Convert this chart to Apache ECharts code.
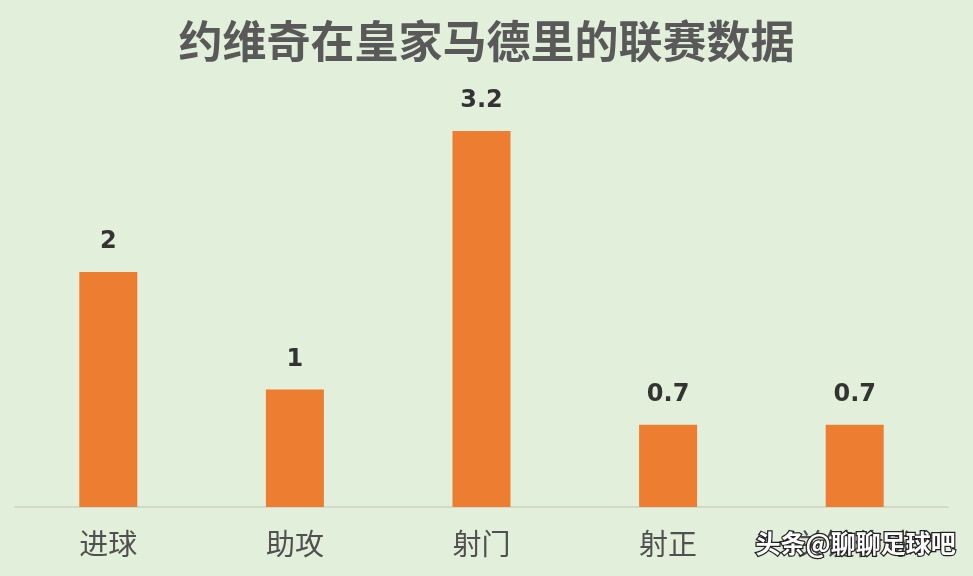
<!DOCTYPE html>
<html>
<head>
<meta charset="utf-8">
<script src="https://cdn.jsdelivr.net/npm/echarts@6/dist/echarts.min.js"></script>
<style>html,body{margin:0;padding:0;background:#E2EFDA;}#c{width:973px;height:576px;}</style>
</head>
<body>
<div id="c"></div>
<script>
const categories = ['进球', '助攻', '射门', '射正', '关键传球'];
const values = [2, 1, 3.2, 0.7, 0.7];
const titleText = '约维奇在皇家马德里的联赛数据';
const watermark = '头条@聊聊足球吧';

const chart = echarts.init(document.getElementById('c'));
chart.setOption({
  backgroundColor: '#E2EFDA',
  animation: false,
  title: {
    text: titleText,
    left: 'center',
    top: 14,
    textStyle: {
      fontFamily: 'Noto Sans CJK SC',
      fontSize: 44,
      fontWeight: 'bold',
      color: '#595959'
    }
  },
  grid: { left: 15, right: 25, top: 37, bottom: 69 },
  xAxis: {
    type: 'category',
    data: categories,
    axisLine: { lineStyle: { color: '#C9D3C4', width: 1.5 } },
    axisTick: { show: false },
    axisLabel: {
      fontFamily: 'Noto Sans CJK SC',
      fontSize: 29,
      color: '#505050',
      margin: 22
    }
  },
  yAxis: {
    type: 'value',
    min: 0,
    max: 4,
    show: false,
    splitLine: { show: false }
  },
  series: [{
    type: 'bar',
    data: values,
    barWidth: 58,
    itemStyle: { color: '#ED7D31' },
    label: {
      show: true,
      position: 'top',
      distance: 18,
      fontFamily: 'DejaVu Sans',
      fontSize: 24,
      fontWeight: 'bold',
      color: '#333333'
    }
  }],
  graphic: [{
    type: 'text',
    right: 16,
    top: 530,
    z: 100,
    style: {
      text: watermark,
      font: 'bold 25px "Noto Sans CJK SC"',
      fill: '#ffffff',
      stroke: '#222222',
      lineWidth: 2.5,
      shadowColor: 'rgba(0,0,0,0.6)',
      shadowBlur: 2,
      shadowOffsetX: 1,
      shadowOffsetY: 1
    }
  }]
});
</script>
</body>
</html>
